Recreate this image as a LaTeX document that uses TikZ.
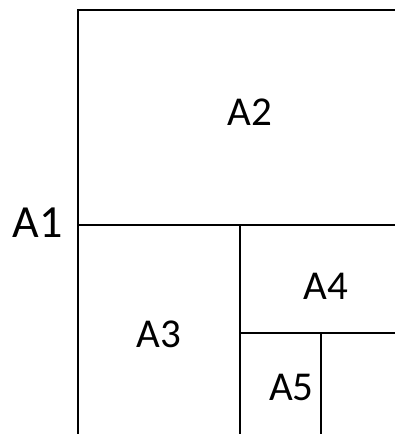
\documentclass[tikz,border=0pt]{standalone}
\usepackage{fontspec}
\setmainfont{Carlito}
\usepackage{tikz}

\begin{document}
\begin{tikzpicture}[x=1pt,y=-1pt,
  wall/.style={line width=1.5pt,line cap=rect},
  area/.style={font=\fontsize{41}{41}\selectfont,inner sep=0pt}]
  \useasboundingbox (0,0) rectangle (394,434);
  % partition lines
  \draw[wall] (394,10) -- (78,10) -- (78,434);
  \draw[wall] (78,225) -- (394,225);
  \draw[wall] (240,225) -- (240,434);
  \draw[wall] (240,333) -- (394,333);
  \draw[wall] (321,333) -- (321,434);
  % labels
  \node[area,font=\fontsize{46}{46}\selectfont] (a1) at (37.5,223) {A1};
  \node[area] (a2) at (250,112) {A2};
  \node[area] (a3) at (159,334) {A3};
  \node[area] (a4) at (326,286) {A4};
  \node[area] (a5) at (291.5,387) {A5};
\end{tikzpicture}
\end{document}
